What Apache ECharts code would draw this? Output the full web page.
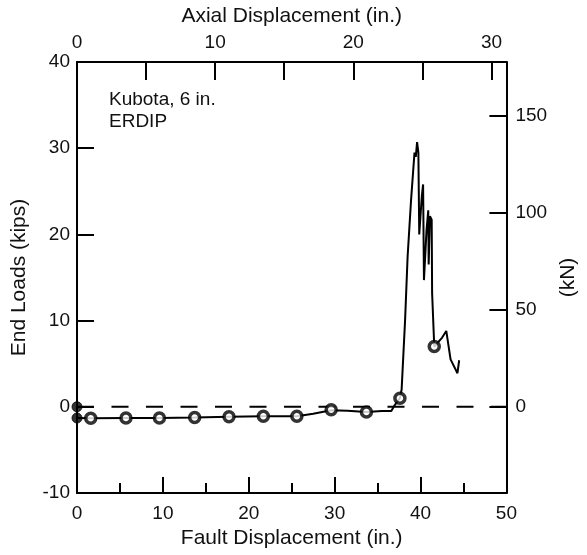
<!DOCTYPE html>
<html>
<head>
<meta charset="utf-8">
<script src="https://cdn.jsdelivr.net/npm/echarts@6/dist/echarts.min.js"></script>
<style>html,body{margin:0;padding:0;background:#fff;}#c{width:587px;height:555px;}</style>
</head>
<body>
<div id="c"></div>
<script>
// Fault displacement (in.) vs end load (kips)
const loadCurve = [
  [0,-1.3],[1.6,-1.32],[5.7,-1.3],[9.6,-1.3],[13.7,-1.25],[17.7,-1.15],[21.7,-1.1],[25.6,-1.1],
  [27.5,-0.8],[29.6,-0.4],[31.5,-0.45],[33.7,-0.6],[35.5,-0.5],[36.6,-0.5],[37.0,0.2],[37.6,1.0],
  [37.8,2],[38.2,10],[38.5,17.5],[38.9,24],[39.3,29.5],[39.45,29],[39.6,30.7],[39.75,29.5],
  [39.85,20],[40.15,24.4],[40.3,25.8],[40.4,14.7],[40.7,20.5],[40.9,22.8],[40.95,16.5],
  [41.1,22.1],[41.3,21.7],[41.35,13.2],[41.6,7.0],[42.5,8.0],[43.0,8.8],[43.5,5.5],[44.3,3.9],[44.5,5.4]
];
const openMarkers = [
  [1.6,-1.32],[5.7,-1.3],[9.6,-1.3],[13.7,-1.25],[17.7,-1.15],[21.7,-1.1],[25.6,-1.1],
  [29.6,-0.35],[33.7,-0.6],[37.6,1.0],[41.6,7.0]
];
const filledMarkers = [[0,0],[0,-1.3]];
const zeroLine = [[0,0],[50,0]];
const faultTicks = {min:0, max:50, interval:10};
const axialRange = {min:0, max:31.08, interval:5};
const kipsTicks = {min:-10, max:40, interval:10};
const kNPerKip = 4.448;
const kNTicks = [0,50,100,150];
const annotation = ['Kubota, 6 in.', 'ERDIP'];

const font = 'Liberation Sans, Arial, sans-serif';
const txt = {color:'#111', fontSize:19, fontFamily:font};
const nameTxt = {color:'#111', fontSize:21, fontFamily:font};
const axisLine = {show:true, onZero:false, lineStyle:{color:'#000', width:2}};

const chart = echarts.init(document.getElementById('c'));
chart.setOption({
  animation:false,
  backgroundColor:'#fff',
  grid:{left:77, right:78, top:62, bottom:62, containLabel:false},
  xAxis:[{
    type:'value', position:'bottom', min:faultTicks.min, max:faultTicks.max, interval:faultTicks.interval,
    axisLine:axisLine,
    axisTick:{inside:true, length:16, lineStyle:{color:'#000', width:2}},
    minorTick:{show:true, splitNumber:2, length:10, lineStyle:{color:'#000', width:2}},
    splitLine:{show:false},
    axisLabel:Object.assign({margin:11}, txt),
    name:'Fault Displacement (in.)', nameLocation:'middle', nameGap:35, nameTextStyle:nameTxt
  },{
    type:'value', position:'top', min:axialRange.min, max:axialRange.max, interval:axialRange.interval,
    axisLine:axisLine,
    axisTick:{inside:true, length:18, lineStyle:{color:'#000', width:2}},
    splitLine:{show:false},
    axisLabel:Object.assign({margin:10, showMaxLabel:false, formatter:function(v){return (Math.abs(v%10)<1e-6)?String(v):'';}}, txt),
    name:'Axial Displacement (in.)', nameLocation:'middle', nameGap:35, nameTextStyle:nameTxt
  }],
  yAxis:[{
    type:'value', position:'left', min:kipsTicks.min, max:kipsTicks.max, interval:kipsTicks.interval,
    axisLine:axisLine,
    axisTick:{inside:true, length:17, lineStyle:{color:'#000', width:2}},
    splitLine:{show:false},
    axisLabel:Object.assign({margin:7}, txt),
    name:'End Loads (kips)', nameLocation:'middle', nameGap:47, nameTextStyle:nameTxt
  },{
    type:'value', position:'right', min:kipsTicks.min*kNPerKip, max:kipsTicks.max*kNPerKip,
    axisLine:axisLine,
    axisTick:{inside:true, length:17, customValues:kNTicks, lineStyle:{color:'#000', width:2}},
    splitLine:{show:false},
    axisLabel:Object.assign({margin:9, customValues:kNTicks}, txt),
    name:'(kN)', nameLocation:'middle', nameGap:48, nameRotate:90, nameTextStyle:nameTxt
  }],
  graphic:[{
    type:'text', left:109, top:89,
    style:{text:annotation.join('\n'), fill:'#111', font:'19px '+font, lineHeight:22}
  }],
  series:[{
    type:'line', data:zeroLine, xAxisIndex:0, yAxisIndex:0, symbol:'none',
    lineStyle:{color:'#000', width:2, type:[17,17.5]}, z:2
  },{
    type:'line', data:loadCurve, xAxisIndex:0, yAxisIndex:0, symbol:'none',
    lineStyle:{color:'#000', width:2}, z:3
  },{
    type:'scatter', data:openMarkers, xAxisIndex:0, yAxisIndex:0, symbol:'circle', symbolSize:10,
    itemStyle:{color:'#fff', borderColor:'#000', borderWidth:3.5}, z:4
  },{
    type:'scatter', data:filledMarkers, xAxisIndex:0, yAxisIndex:0, symbol:'circle', symbolSize:10,
    itemStyle:{color:'#000', borderColor:'#000', borderWidth:1}, z:4
  }]
});
</script>
</body>
</html>
